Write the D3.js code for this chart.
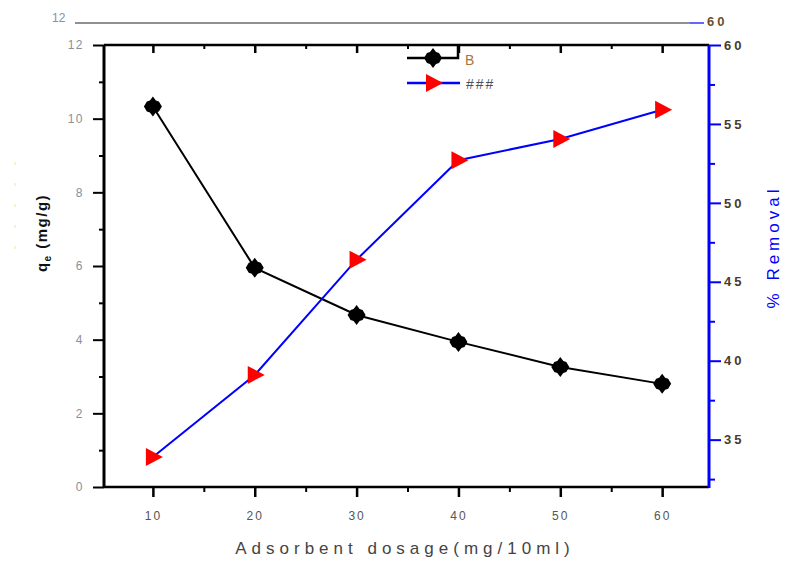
<!DOCTYPE html>
<html>
<head>
<meta charset="utf-8">
<script src="https://cdn.jsdelivr.net/npm/d3@7"></script>
<style>
  body { margin: 0; background: #fff; }
  svg { display: block; }
  text { font-family: "Liberation Sans Narrow", "Arial Narrow", "Liberation Sans", sans-serif; }
</style>
</head>
<body>
<div id="chart"></div>
<script>
// data
var dosage = [10, 20, 30, 40, 50, 60];
var qe = [10.33, 5.95, 4.67, 3.94, 3.26, 2.80];
var removal = [33.9, 39.1, 46.4, 52.7, 54.05, 55.9];
var xTicks = [10, 20, 30, 40, 50, 60];
var yLeftTicks = [0, 2, 4, 6, 8, 10, 12];
var yRightTicks = [35, 40, 45, 50, 55, 60];

var W = 786, H = 561;
var pLeft = 104, pRight = 709, pTop = 45, pBottom = 487;

var svg = d3.select("#chart").append("svg")
  .attr("width", W)
  .attr("height", H);

var x = d3.scaleLinear().domain([5.2, 64.6]).range([pLeft, pRight]);
var yL = d3.scaleLinear().domain([0, 12]).range([pBottom, pTop]);
var yR = d3.scaleLinear().domain([32, 60]).range([pBottom, pTop]);

// ghost copy of the top axis
svg.append("line")
  .attr("x1", 75).attr("x2", 690).attr("y1", 23).attr("y2", 23)
  .style("stroke", "#222").style("stroke-width", 1.2);
svg.append("line")
  .attr("x1", 690).attr("x2", 704).attr("y1", 23).attr("y2", 23)
  .style("stroke", "blue").style("stroke-width", 1.2);
svg.append("text").attr("x", 52).attr("y", 22)
  .attr("font-size", 12).attr("fill", "#8a8f9c").text("12");
svg.append("text").attr("x", 707).attr("y", 26)
  .attr("font-size", 13).attr("font-weight", "bold").attr("letter-spacing", 3)
  .attr("fill", "#6a5030").text("60");

// faint yellow artifact near left title
svg.append("line")
  .attr("x1", 15).attr("x2", 15).attr("y1", 162).attr("y2", 265)
  .style("stroke", "#f3e6a0").style("stroke-width", 1)
  .style("stroke-dasharray", "3,18");

// minor tick helpers
function minorVals(ticks, step) {
  var out = [];
  ticks.forEach(function(t) { out.push(t + step); });
  return out;
}

// bottom axis, ticks outside
svg.append("g")
  .attr("transform", "translate(0," + pBottom + ")")
  .call(d3.axisBottom(x).tickValues(minorVals(xTicks.slice(0, 5), 5)).tickSize(5).tickFormat(""))
  .call(function(g) { g.select(".domain").remove(); })
  .selectAll("line").style("stroke", "#000").style("stroke-width", 2);

var gx = svg.append("g")
  .attr("transform", "translate(0," + pBottom + ")")
  .call(d3.axisBottom(x).tickValues(xTicks).tickSize(10).tickPadding(14));
gx.select(".domain").remove();
gx.selectAll("line").style("stroke", "#000").style("stroke-width", 2.5);
gx.selectAll("text").attr("font-size", 12).attr("fill", "#555")
  .attr("letter-spacing", 2)
  .style("font-family", "'Liberation Sans Narrow', 'Arial Narrow', sans-serif");

// top axis, ticks pointing inward
svg.append("g")
  .attr("transform", "translate(0," + pTop + ")")
  .call(d3.axisBottom(x).tickValues(minorVals(xTicks.slice(0, 5), 5)).tickSize(4).tickFormat(""))
  .call(function(g) { g.select(".domain").remove(); })
  .selectAll("line").style("stroke", "#000").style("stroke-width", 2);
svg.append("g")
  .attr("transform", "translate(0," + pTop + ")")
  .call(d3.axisBottom(x).tickValues(xTicks).tickSize(8).tickFormat(""))
  .call(function(g) { g.select(".domain").remove(); })
  .selectAll("line").style("stroke", "#000").style("stroke-width", 2.5);

// left axis
svg.append("g")
  .attr("transform", "translate(" + pLeft + ",0)")
  .call(d3.axisLeft(yL).tickValues(minorVals(yLeftTicks.slice(0, 6), 1)).tickSize(5).tickFormat(""))
  .call(function(g) { g.select(".domain").remove(); })
  .selectAll("line").style("stroke", "#000").style("stroke-width", 2);
var gl = svg.append("g")
  .attr("transform", "translate(" + pLeft + ",0)")
  .call(d3.axisLeft(yL).tickValues(yLeftTicks).tickSize(11).tickPadding(9));
gl.select(".domain").remove();
gl.selectAll("line").style("stroke", "#000").style("stroke-width", 2);
gl.selectAll("text").attr("font-size", 12).attr("fill", "#8a8f9c")
  .attr("letter-spacing", 1.5)
  .style("font-family", "'Liberation Sans Narrow', 'Arial Narrow', sans-serif");

// right axis, blue
svg.append("g")
  .attr("transform", "translate(" + pRight + ",0)")
  .call(d3.axisRight(yR).tickValues([32.5].concat(minorVals(yRightTicks.slice(0, 5), 2.5))).tickSize(6).tickFormat(""))
  .call(function(g) { g.select(".domain").remove(); })
  .selectAll("line").style("stroke", "blue").style("stroke-width", 2);
var gr = svg.append("g")
  .attr("transform", "translate(" + pRight + ",0)")
  .call(d3.axisRight(yR).tickValues(yRightTicks).tickSize(12).tickPadding(3));
gr.select(".domain").remove();
gr.selectAll("line").style("stroke", "blue").style("stroke-width", 2);
gr.selectAll("text").attr("font-size", 13).attr("font-weight", "bold")
  .attr("letter-spacing", 3).attr("fill", "#4a3a2a")
  .style("font-family", "'Liberation Sans Narrow', 'Arial Narrow', sans-serif");

// frame lines
svg.append("line").attr("x1", pLeft).attr("x2", pRight).attr("y1", pTop).attr("y2", pTop)
  .style("stroke", "#000").style("stroke-width", 2.5);
svg.append("line").attr("x1", pLeft).attr("x2", pRight).attr("y1", pBottom).attr("y2", pBottom)
  .style("stroke", "#000").style("stroke-width", 2.5);
svg.append("line").attr("x1", pLeft).attr("x2", pLeft).attr("y1", pTop).attr("y2", pBottom + 1)
  .style("stroke", "#000").style("stroke-width", 3);
svg.append("line").attr("x1", pRight).attr("x2", pRight).attr("y1", pTop).attr("y2", pBottom + 1)
  .style("stroke", "blue").style("stroke-width", 3);

// black series
var lineL = d3.line()
  .x(function(d, i) { return x(dosage[i]); })
  .y(function(d) { return yL(d); });
svg.append("path")
  .datum(qe)
  .attr("d", lineL)
  .style("fill", "none").style("stroke", "#000").style("stroke-width", 2);

var diamond = "M0,-10L3,-6L6,-5L9,0L6,5L3,6L0,10L-3,6L-6,5L-9,0L-6,-5L-3,-6Z";
svg.selectAll("path.dia")
  .data(qe)
  .enter()
  .append("path")
  .attr("class", "dia")
  .attr("d", diamond)
  .attr("transform", function(d, i) { return "translate(" + x(dosage[i]) + "," + yL(d) + ")"; })
  .style("fill", "#000");

// blue series
var lineR = d3.line()
  .x(function(d, i) { return x(dosage[i]); })
  .y(function(d) { return yR(d); });
svg.append("path")
  .datum(removal)
  .attr("d", lineR)
  .style("fill", "none").style("stroke", "blue").style("stroke-width", 2);

var triRight = "M-7,-9L10,0L-7,9Z";
svg.selectAll("path.tri")
  .data(removal)
  .enter()
  .append("path")
  .attr("class", "tri")
  .attr("d", triRight)
  .attr("transform", function(d, i) { return "translate(" + x(dosage[i]) + "," + yR(d) + ")"; })
  .style("fill", "red");

// legend
var lg = svg.append("g");
lg.append("path")
  .attr("d", "M407,58L458,58L458,45")
  .style("fill", "none").style("stroke", "#000").style("stroke-width", 2.5);
lg.append("path")
  .attr("d", diamond)
  .attr("transform", "translate(433,58)")
  .style("fill", "#000");
lg.append("text").attr("x", 465).attr("y", 65)
  .attr("font-size", 14).attr("fill", "#a8763a").text("B");
lg.append("line")
  .attr("x1", 407).attr("x2", 460).attr("y1", 83).attr("y2", 83)
  .style("stroke", "blue").style("stroke-width", 2.5);
lg.append("path")
  .attr("d", triRight)
  .attr("transform", "translate(433,83)")
  .style("fill", "red");
lg.append("text").attr("x", 466).attr("y", 89)
  .attr("font-size", 14).attr("letter-spacing", 2).attr("fill", "#4a5060").text("###");

// axis titles
var tl = svg.append("text")
  .attr("transform", "translate(47,233) rotate(-90)")
  .attr("text-anchor", "middle")
  .attr("font-size", 15).attr("font-weight", "bold").attr("fill", "#111")
  .attr("letter-spacing", 1.5)
  .style("font-family", "'Liberation Sans', Arial, sans-serif");
tl.append("tspan").text("q");
tl.append("tspan").attr("font-size", 10).attr("dy", 4).text("e");
tl.append("tspan").attr("dy", -4).text("  (mg/g)");

svg.append("text")
  .attr("transform", "translate(779,247) rotate(-90)")
  .attr("text-anchor", "middle")
  .attr("font-size", 17).attr("fill", "blue")
  .attr("letter-spacing", 4)
  .style("font-family", "'Liberation Sans', Arial, sans-serif")
  .text("% Removal");

svg.append("text")
  .attr("x", 405).attr("y", 554)
  .attr("text-anchor", "middle")
  .attr("font-size", 17).attr("letter-spacing", 5).attr("fill", "#444")
  .style("font-family", "'Liberation Sans', Arial, sans-serif")
  .text("Adsorbent dosage(mg/10ml)");
</script>
</body>
</html>
